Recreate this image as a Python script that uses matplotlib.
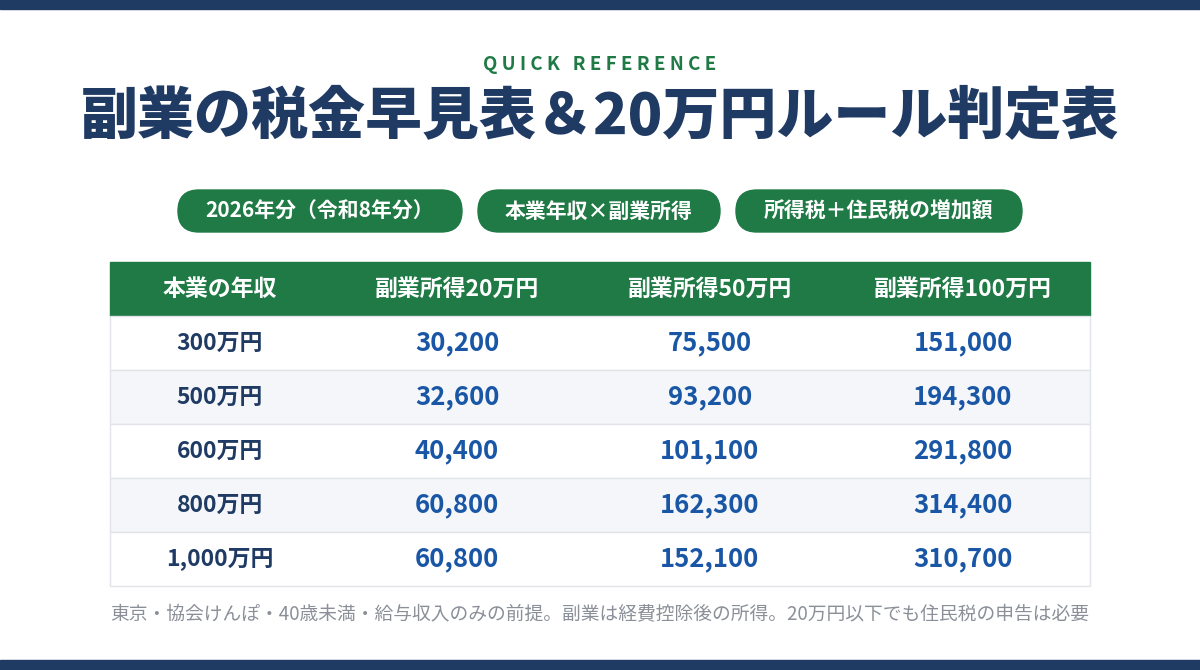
import matplotlib
matplotlib.use("Agg")
import matplotlib.pyplot as plt
from matplotlib.patches import FancyBboxPatch, Rectangle

plt.rcParams['font.family'] = ['Noto Sans CJK JP', 'DejaVu Sans']

kicker = "QUICK REFERENCE"
title = "副業の税金早見表＆20万円ルール判定表"
pills = ["2026年分（令和8年分）", "本業年収×副業所得", "所得税＋住民税の増加額"]
headers = ["本業の年収", "副業所得20万円", "副業所得50万円", "副業所得100万円"]
incomes = ["300万円", "500万円", "600万円", "800万円", "1,000万円"]
side20 = [30200, 32600, 40400, 60800, 60800]
side50 = [75500, 93200, 101100, 162300, 152100]
side100 = [151000, 194300, 291800, 314400, 310700]
note = "東京・協会けんぽ・40歳未満・給与収入のみの前提。副業は経費控除後の所得。20万円以下でも住民税の申告は必要"

NAVY = "#1f3a63"; GREEN = "#1f7a45"; BLUE = "#1957a6"

fig = plt.figure(figsize=(12, 6.7), dpi=100)
ax = fig.add_axes([0, 0, 1, 1])
ax.set_xlim(0, 1200); ax.set_ylim(670, 0); ax.axis('off')

ax.add_patch(Rectangle((0, 0), 1200, 9, color=NAVY))
ax.add_patch(Rectangle((0, 660), 1200, 10, color=NAVY))

ax.text(600, 64, " ".join(kicker), ha='center', va='center',
        color=GREEN, fontsize=13.5, fontweight='bold')
ax.text(600, 118, title, ha='center', va='center', color=NAVY, fontsize=41, fontweight='heavy')

pill_x = [(178, 462), (478, 720), (736, 1022)]
for (x0, x1), t in zip(pill_x, pills):
    ax.add_patch(FancyBboxPatch((x0, 190), x1 - x0, 42,
                                boxstyle="round,pad=0,rounding_size=21", color=GREEN))
    ax.text((x0 + x1) / 2, 211, t, ha='center', va='center', color='white', fontsize=15, fontweight='bold')

L, R = 110, 1090
colx = [220, 457, 710, 963]
ax.add_patch(Rectangle((L, 262), R - L, 54, color=GREEN))
for x, h in zip(colx, headers):
    ax.text(x, 289, h, ha='center', va='center', color='white', fontsize=16.5, fontweight='bold')

for i, inc in enumerate(incomes):
    y0 = 316 + 54 * i
    fc = "#ffffff" if i % 2 == 0 else "#f4f6f9"
    ax.add_patch(Rectangle((L, y0), R - L, 54, facecolor=fc, edgecolor="#e1e5ea", lw=1))
    yc = y0 + 27
    ax.text(colx[0], yc, inc, ha='center', va='center', color=NAVY, fontsize=16.5, fontweight='bold')
    for x, v in zip(colx[1:], (side20[i], side50[i], side100[i])):
        ax.text(x, yc, f"{v:,}", ha='center', va='center', color=BLUE, fontsize=18.5, fontweight='bold')

ax.text(600, 615, note, ha='center', va='center', color="#8a8f98", fontsize=13.5)

fig.savefig("out.png", dpi=100, facecolor='white')
